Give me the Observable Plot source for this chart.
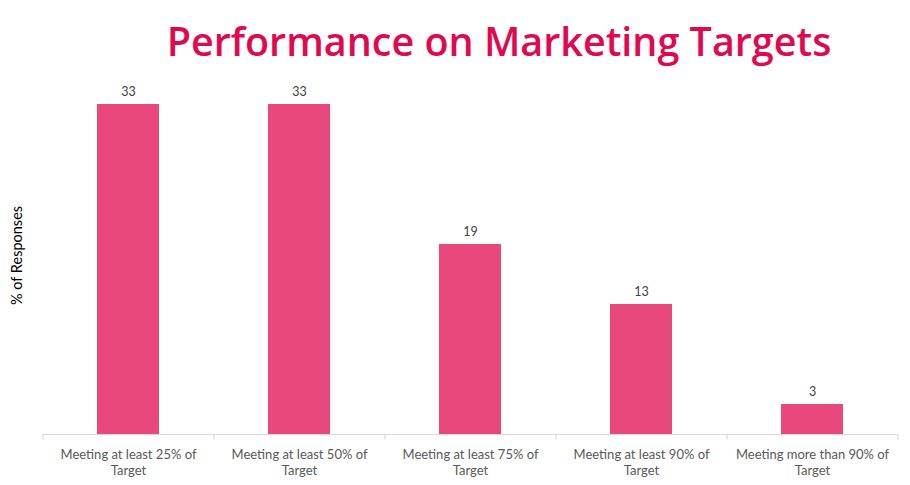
<!DOCTYPE html>
<html>
<head>
<meta charset="utf-8">
<script src="https://cdn.jsdelivr.net/npm/d3@7"></script>
<script src="https://cdn.jsdelivr.net/npm/@observablehq/plot@0.6"></script>
<style>
  html, body { margin: 0; padding: 0; background: #fff; }
  #wrap { width: 910px; height: 485px; position: relative; overflow: hidden; }
  #title {
    position: absolute; left: 88px; width: 822px; top: 21px;
    text-align: center; font-family: "Open Sans", sans-serif; font-weight: 600;
    font-size: 39.5px; line-height: 40px; color: #E0094F; white-space: nowrap;
  }
  #chart { position: absolute; left: 0; top: 70px; }
</style>
</head>
<body>
<div id="wrap">
  <div id="title">Performance on Marketing Targets</div>
  <div id="chart"></div>
</div>
<script>
const categories = [
  "Meeting at least 25% of\nTarget",
  "Meeting at least 50% of\nTarget",
  "Meeting at least 75% of\nTarget",
  "Meeting at least 90% of\nTarget",
  "Meeting more than 90% of\nTarget"
];
const values = [33, 33, 19, 13, 3];
const yLabel = "% of Responses";

const data = categories.map((c, i) => ({category: c, value: values[i]}));

const W = 910, H = 415, ML = 42, MR = 13, MT = 14, MB = 51;
const step = (W - ML - MR) / categories.length;
const barColor = "#E9487D";
const axisColor = "#D9D9D9";
const font = "Lato, 'Open Sans', sans-serif";

const plot = Plot.plot({
  width: W, height: H,
  marginLeft: ML, marginRight: MR, marginTop: MT, marginBottom: MB,
  style: {fontFamily: font, background: "#fff"},
  x: {domain: categories, paddingInner: 0.64, paddingOuter: 0.32, axis: null},
  y: {domain: [0, 35], axis: null},
  marks: [
    Plot.barY(data, {x: "category", y: "value", fill: barColor}),
    Plot.ruleY([0], {stroke: axisColor, strokeWidth: 1.2}),
    Plot.ruleX(categories, {x: d => d, dx: -step / 2, y1: 0, y2: -0.55, stroke: axisColor, strokeWidth: 1.2}),
    Plot.ruleX([categories[categories.length - 1]], {x: d => d, dx: step / 2, y1: 0, y2: -0.55, stroke: axisColor, strokeWidth: 1.2}),
    Plot.text(data, {x: "category", y: "value", text: d => String(d.value), lineAnchor: "bottom", dy: -9, fill: "#404040", fontSize: 12.5}),
    Plot.text(categories, {x: d => d, y: 0, text: d => d, lineAnchor: "top", dy: 12, lineHeight: 1.3, fill: "#595959", fontSize: 13}),
    Plot.text([yLabel], {frameAnchor: "left", textAnchor: "middle", text: d => d, rotate: -90, dx: -25, dy: -4, fill: "#000", fontSize: 14.5})
  ]
});
document.getElementById("chart").appendChild(plot);
</script>
</body>
</html>
